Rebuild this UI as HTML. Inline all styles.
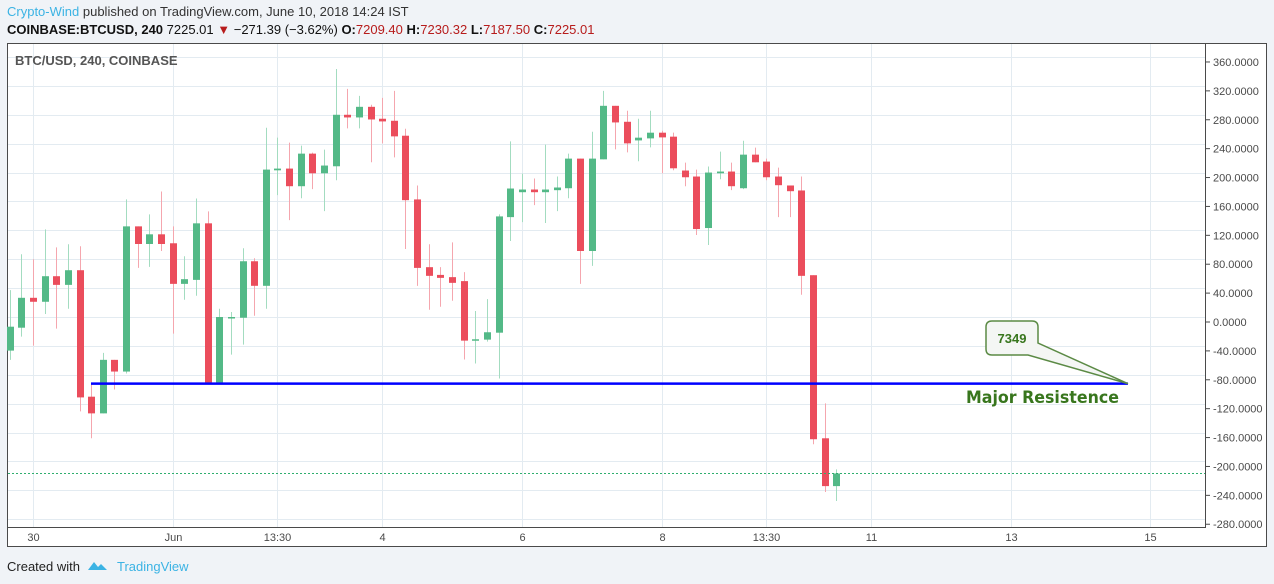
<!DOCTYPE html>
<html><head><meta charset="utf-8"><style>
html,body{margin:0;padding:0;background:#f0f3f7;width:1274px;height:584px;overflow:hidden;font-family:"Liberation Sans",Arial,sans-serif}
svg{display:block}
</style></head><body>
<svg id="c" width="1274" height="584" xmlns="http://www.w3.org/2000/svg">
<rect x="0" y="0" width="1274" height="584" fill="#f0f3f7"/>
<text x="7" y="16" font-size="13" fill="#333"><tspan fill="#3bb3e4">Crypto-Wind</tspan> published on TradingView.com, June 10, 2018 14:24 IST</text>
<text x="7" y="34" font-size="13" fill="#111"><tspan font-weight="bold">COINBASE:BTCUSD, 240</tspan>  7225.01 <tspan fill="#b71c1c">▼</tspan> −271.39 (−3.62%) <tspan font-weight="bold">O:</tspan><tspan fill="#b71c1c">7209.40</tspan> <tspan font-weight="bold">H:</tspan><tspan fill="#b71c1c">7230.32</tspan> <tspan font-weight="bold">L:</tspan><tspan fill="#b71c1c">7187.50</tspan> <tspan font-weight="bold">C:</tspan><tspan fill="#b71c1c">7225.01</tspan></text>
<rect x="7.5" y="43.5" width="1259" height="503" fill="#fff" stroke="#4a4a4a"/>
<g id="grid"></g>
<g id="candles"></g>
<g id="overlay"></g>
<line x1="7.5" y1="527.5" x2="1206" y2="527.5" stroke="#4a4a4a"/>
<line x1="1205.5" y1="44" x2="1205.5" y2="528" stroke="#4a4a4a"/>
<text x="15" y="65" font-size="13" font-weight="bold" fill="#555">BTC/USD, 240, COINBASE</text>
<g id="axes"></g>
<text x="7" y="571" font-size="13" fill="#222">Created with</text>
<path d="M88 570 l6 -8 l4 5 l3 -3 l6 6 z" fill="#3bb3e4"/>
<text x="117" y="571" font-size="13" fill="#3bb3e4">TradingView</text>
</svg>
<script>
const yTicks=[360,320,280,240,200,160,120,80,40,0,-40,-80,-120,-160,-200,-240,-280];
const xLabels=["30","Jun","13:30","4","6","8","13:30","11","13","15"];
const xLabelPos=[2,14,23,32,44,56,65,74,86,98];
const opens=[-39.6,-7.9,33.5,28,63.4,51.4,71.7,-103.4,-126.5,-52.4,-68.6,132.4,108,121.4,109,52.8,58.3,136.6,-83.7,5.9,5.9,84.1,50.1,210,212.4,188,233.1,205.9,215.6,286.9,283.2,297.9,281.4,278.6,257.9,169.7,75.9,65.2,62.1,56.6,-25.8,-24.4,-14.8,145.2,179.7,183.4,179.7,182.5,185.2,226.2,98.3,225.2,299.3,277.2,251.4,254.2,262.1,256.6,209.7,201.4,130.1,205.9,208.3,185.2,231.7,222.1,201.4,189,182.1,64.8,-161,-227.2];
const highs=[44.1,93.8,86.9,128.3,103.4,107.6,104.8,-83.7,-42.8,-52.4,169.7,132.4,149,180.7,132.4,91,171,153.1,18.3,13.8,102.1,88.3,269,255.2,248.3,244.1,234.5,238.6,350.3,322.8,313.1,300.7,310.3,320,267.6,189,107.6,75.9,110.3,69,15.2,31.7,149,250.1,205.5,198.6,245.5,201.4,233.1,226.2,263.4,320,299.3,292.4,281.4,292.4,264.8,262.1,220.7,211,215.2,235.9,220.7,251,241.4,226.2,213.8,189,201.4,64.8,-112.7,-204.1];
const lows=[-52.4,-20.3,-32.7,11,-9.2,18.3,-123.7,-161,-126.5,-93.4,-71.3,74.9,76.3,98.3,-16.1,30.8,36.3,-83.7,-83.7,-45.1,-31.3,8.7,18.3,175.6,141.1,171.4,183.9,153.5,196.3,268,268,221.1,247.3,228,101.1,50.1,17,21.1,29.4,-52,-57.5,-27.2,-78.2,112.1,138.3,161.8,137,153.5,171.4,52.8,77.7,225.2,239,234.9,222.5,241.8,205.9,210.1,188,120.4,106.6,197.7,182.5,183.9,221.1,196.3,145.2,145.2,37.7,-169.2,-235.4,-247.9];
const closes=[-6.5,33.5,28,63.4,51.4,71.7,-104.4,-126.5,-52.4,-68.6,132.4,108,121.4,108,52.8,59.3,136.6,-83.7,6.9,6.9,84.1,50.1,211,212.4,188,233.1,205.9,216.6,286.9,283.2,297.9,280.4,277.7,257,168.7,74.9,63.9,61.1,54.2,-25.8,-23.9,-14.2,146.2,184.8,183.4,179.7,183.4,186.2,226.2,98.3,226.2,299.3,276.3,247.3,255.2,262.1,255.6,212.8,200.4,128.7,206.9,208.3,188,231.7,221.1,200.4,189.4,181.1,63.9,-162.3,-227.2,-209.7];
const resistance=[-85.4];
const calloutLabel=["7349"];
const NS="http://www.w3.org/2000/svg";
function y(v){return 322-v*0.7223;}
function x(i){return 9.7+i*11.64;}
function mk(p,t,a){const e=document.createElementNS(NS,t);for(const k in a)e.setAttribute(k,a[k]);p.appendChild(e);return e;}
const grid=document.getElementById('grid'),cg=document.getElementById('candles'),ov=document.getElementById('overlay'),ax=document.getElementById('axes');
yTicks.forEach(v=>{const yy=Math.round(y(v)-5)+0.5;
 const g=mk(grid,'line',{x1:8,x2:1205,y1:yy,y2:yy,stroke:'#e3ebf1'});
 
 
 const tk=mk(ax,'line',{x1:1206,x2:1210,y1:y(v),y2:y(v),stroke:'#4a4a4a'});
 
 
 const t=mk(ax,'text',{x:1213,y:y(v)+4,'font-size':11,fill:'#4a4a4a'});t.textContent=v.toFixed(4);
 
 
});
xLabels.forEach((l,k)=>{const xx=Math.round(x(xLabelPos[k]))+0.5;
 const g=mk(grid,'line',{x1:xx,x2:xx,y1:44,y2:527,stroke:'#e3ebf1'});
 
 
 const t=mk(ax,'text',{x:xx,y:541,'font-size':11,fill:'#4a4a4a','text-anchor':'middle'});t.textContent=l;
 
 
});
opens.forEach((o,i)=>{const c=closes[i],up=c>=o,col=up?'#53b987':'#eb4d5c',wc=up?'#a3dcc0':'#f5a6ae';
 const cx=Math.round(x(i))+0.5;
 const w=mk(cg,'line',{x1:cx,x2:cx,y1:y(highs[i]),y2:y(lows[i]),stroke:wc});
 
 
 const t=Math.min(y(o),y(c)),h=Math.max(1.5,Math.abs(y(o)-y(c)));
 const b=mk(cg,'rect',{x:cx-3.5,y:t,width:7,height:h,fill:col});
 
 
});
const lp=closes[closes.length-1];
const dl=mk(ov,'line',{x1:8,x2:1205,y1:y(lp),y2:y(lp),stroke:'#2fae6e','stroke-dasharray':'2 2'});


const ry=y(resistance[0]);
const rl=mk(ov,'line',{x1:91,x2:1128,y1:ry,y2:ry,stroke:'#0000ff','stroke-width':2.5});


const co=mk(ov,'path',{d:`M992 321 H1032 Q1038 321 1038 327 V343 L1128 ${ry} L1028 355 H992 Q986 355 986 349 V327 Q986 321 992 321 Z`,fill:'#f4f6f4',stroke:'#5b8a45','stroke-width':1.5});


const ct=mk(ov,'text',{x:1012,y:343,'font-size':13,'font-weight':'bold',fill:'#38761d','text-anchor':'middle','font-family':'"Liberation Sans",sans-serif'});ct.textContent=calloutLabel[0];


const mr=mk(ov,'text',{x:966,y:403,'font-size':17,'font-weight':'bold',fill:'#38761d','font-family':'"DejaVu Sans",sans-serif','textLength':153,'lengthAdjust':'spacingAndGlyphs'});mr.textContent='Major Resistence';


</script>
</body></html>
